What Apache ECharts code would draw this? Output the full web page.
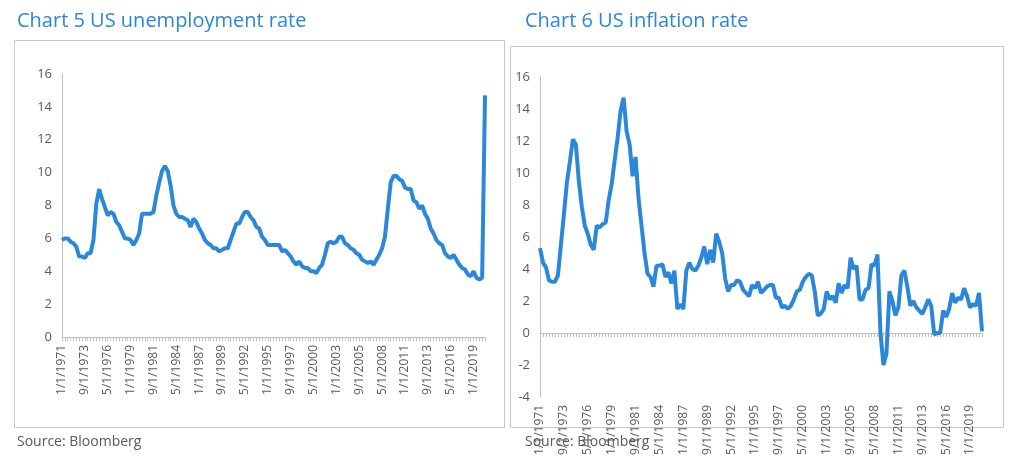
<!DOCTYPE html>
<html><head><meta charset="utf-8">
<script src="https://cdn.jsdelivr.net/npm/echarts@6/dist/echarts.min.js"></script>
<style>html,body{margin:0;padding:0;background:#fff}#chart{width:1024px;height:468px}</style>
</head><body><div id="chart"></div>
<script>
// sampled every 4 months (Jan, May, Sep), Jan 1971 .. May 2020
var startYear = 1971;
var unemployment = [
  5.9,6.0,6.0, 5.8,5.7,5.5, 4.9,4.9,4.8, 5.1,5.1,5.9, 8.1,9.0,8.4,
  7.9,7.4,7.6, 7.5,7.0,6.8, 6.4,6.0,6.0, 5.9,5.6,5.9, 6.3,7.5,7.5,
  7.5,7.5,7.6, 8.6,9.4,10.1, 10.4,10.1,9.2, 8.0,7.5,7.3, 7.3,7.2,7.1,
  6.7,7.2,7.0, 6.6,6.3,5.9, 5.7,5.6,5.4, 5.4,5.2,5.3, 5.4,5.4,5.9,
  6.4,6.9,6.9, 7.3,7.6,7.6, 7.3,7.1,6.7, 6.6,6.1,5.9, 5.6,5.6,5.6,
  5.6,5.6,5.2, 5.3,5.1,4.9, 4.6,4.4,4.6, 4.3,4.2,4.2, 4.0,4.0,3.9,
  4.2,4.4,5.0, 5.7,5.8,5.7, 5.8,6.1,6.1, 5.7,5.6,5.4, 5.3,5.1,5.0,
  4.7,4.6,4.5, 4.6,4.4,4.7, 5.0,5.4,6.1, 7.8,9.4,9.8, 9.8,9.6,9.5,
  9.1,9.0,9.0, 8.3,8.2,7.8, 8.0,7.5,7.2, 6.6,6.3,5.9, 5.7,5.6,5.1,
  4.9,4.8,5.0, 4.7,4.4,4.2, 4.1,3.8,3.7, 4.0,3.6,3.5, 3.6,14.7
];
var inflation = [
  5.3,4.4,4.1, 3.3,3.2,3.2, 3.6,5.5,7.4, 9.4,10.7,12.1, 11.8,9.5,7.9,
  6.7,6.2,5.5, 5.2,6.7,6.6, 6.8,6.9,8.3, 9.3,10.8,12.2, 13.9,14.7,12.6,
  11.8,9.8,11.0, 8.4,6.7,5.0, 3.7,3.5,2.9, 4.2,4.2,4.3, 3.5,3.8,3.1,
  3.9,1.5,1.8, 1.5,3.9,4.4, 4.0,3.9,4.2, 4.7,5.4,4.3, 5.2,4.4,6.2,
  5.7,5.0,3.4, 2.6,3.0,3.0, 3.3,3.2,2.7, 2.5,2.3,3.0, 2.8,3.2,2.5,
  2.7,2.9,3.0, 3.0,2.2,2.2, 1.6,1.7,1.5, 1.7,2.1,2.6, 2.7,3.2,3.5,
  3.7,3.6,2.6, 1.1,1.2,1.5, 2.6,2.1,2.3, 1.9,3.1,2.5, 3.0,2.8,4.7,
  4.0,4.2,2.1, 2.1,2.7,2.8, 4.3,4.2,4.9, 0.0,-2.0,-1.3, 2.6,2.0,1.1,
  1.6,3.6,3.9, 2.9,1.7,2.0, 1.6,1.4,1.2, 1.6,2.1,1.7, -0.1,0.0,0.0,
  1.4,1.0,1.5, 2.5,1.9,2.2, 2.1,2.8,2.3, 1.6,1.8,1.7, 2.5,0.1
];
var dates = [];
for (var i = 0; i < unemployment.length; i++) {
  var m = 1 + (i % 3) * 4, y = startYear + Math.floor(i / 3);
  dates.push(m + '/1/' + y);
}
var blue = '#2b87da', grey = '#595959', line = '#bfbfbf';
var myChart = echarts.init(document.getElementById('chart'));
function xAxis(idx, onZero) {
  return {
    type: 'category', gridIndex: idx, data: dates, boundaryGap: false,
    axisLine: {onZero: onZero, lineStyle: {color: line}},
    axisTick: {show: true, interval: 0, length: 4, lineStyle: {color: line}},
    axisLabel: {interval: 7, rotate: 90, color: grey, fontSize: 12, fontFamily: 'Open Sans'}
  };
}
function yAxis(idx, min) {
  return {
    type: 'value', gridIndex: idx, min: min, max: 16, interval: 2,
    splitLine: {show: false},
    axisLine: {show: true, lineStyle: {color: line}},
    axisLabel: {color: grey, fontSize: 13, fontFamily: 'Open Sans', margin: 10}
  };
}
function series(idx, data) {
  return {type: 'line', xAxisIndex: idx, yAxisIndex: idx, data: data, showSymbol: false,
    lineStyle: {color: blue, width: 4}, itemStyle: {color: blue}};
}
myChart.setOption({
  animation: false,
  title: [
    {text: 'Chart 5 US unemployment rate', left: 12, top: 6,
     textStyle: {color: blue, fontSize: 20, fontWeight: 'normal', fontFamily: 'Open Sans'}},
    {text: 'Chart 6 US inflation rate', left: 520, top: 6,
     textStyle: {color: blue, fontSize: 20, fontWeight: 'normal', fontFamily: 'Open Sans'}},
    {text: 'Source: Bloomberg', left: 12, top: 430,
     textStyle: {color: grey, fontSize: 14, fontWeight: 'normal', fontFamily: 'Open Sans'}},
    {text: 'Source: Bloomberg', left: 520, top: 430,
     textStyle: {color: grey, fontSize: 14, fontWeight: 'normal', fontFamily: 'Open Sans'}}
  ],
  graphic: [
    {type: 'rect', shape: {x: 14.5, y: 40.5, width: 490, height: 387}, style: {fill: 'none', stroke: '#c8c8c8'}},
    {type: 'rect', shape: {x: 510.5, y: 46.5, width: 493, height: 381}, style: {fill: 'none', stroke: '#c8c8c8'}}
  ],
  grid: [
    {left: 62, top: 74, width: 423, height: 263},
    {left: 540, top: 77, width: 442, height: 320}
  ],
  xAxis: [xAxis(0, false), xAxis(1, true)],
  yAxis: [yAxis(0, 0), yAxis(1, -4)],
  series: [series(0, unemployment), series(1, inflation)]
});
</script></body></html>
